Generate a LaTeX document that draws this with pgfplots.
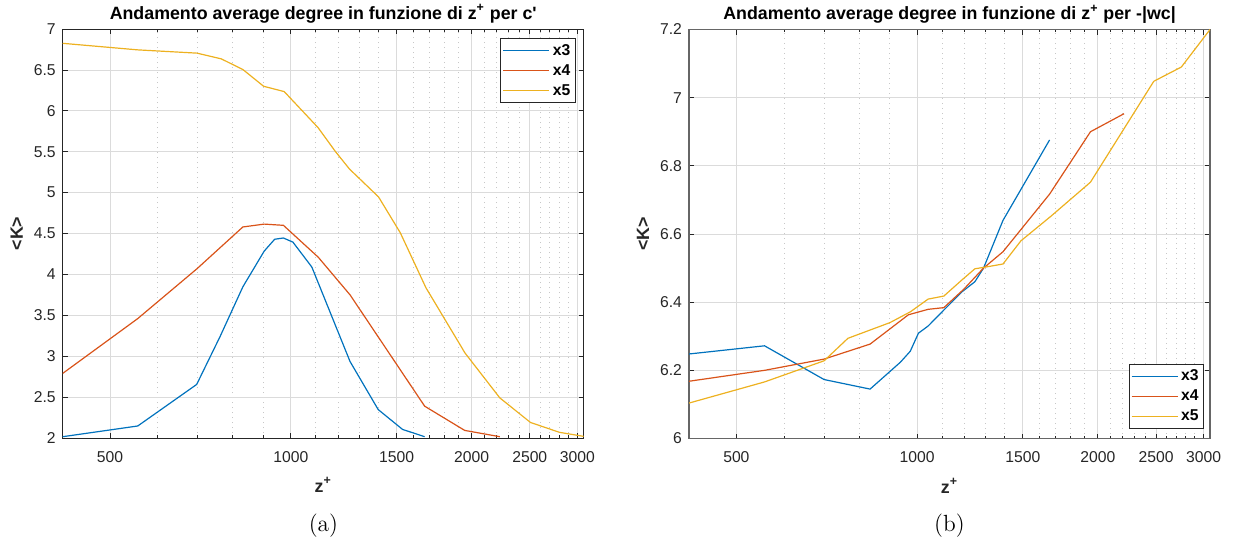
\documentclass[border=0pt]{standalone}
\usepackage{fontspec}
\usepackage{pgfplots}
\pgfplotsset{compat=1.18}
\newfontfamily\hv{Liberation Sans}
\definecolor{mblue}{rgb}{0,0.447,0.741}
\definecolor{mred}{rgb}{0.850,0.325,0.098}
\definecolor{myel}{rgb}{0.929,0.694,0.125}

\pgfplotsset{
  legend image code/.code={\draw[#1] (0pt,0pt) -- (23pt,0pt);},
  every axis plot/.append style={line width=0.6pt},
}

\begin{document}
\begin{tikzpicture}
\path[use as bounding box] (0pt,0pt) rectangle (617.5pt,-273.5pt);

% ---------- (a) ----------
\begin{axis}[name=L, at={(31.35pt,-219pt)}, anchor=south west,
    scale only axis, width=260.5pt, height=204.5pt,
    xmode=log, log basis x=10, xmin=417, xmax=3075,
    xtick={500,1000,1500,2000,2500,3000},
    xticklabels={500,1000,1500,2000,2500,3000},
    minor xtick={600,700,800,900,1100,1200,1300,1400,1600,1700,1800,1900,2100,2200,2300,2400,2600,2700,2800,2900},
    xmajorgrids=true, xminorgrids=true, ymajorgrids=true,
    major grid style={line width=0.4pt, black!14},
    minor grid style={line width=0.4pt, black!22, dash pattern=on 0.5pt off 2pt},
    tick align=inside, tick pos=both,
    major tick length=2.5pt, minor tick length=1.4pt,
    every tick/.style={black!85, line width=0.4pt},
    tick label style={font=\hv\fontsize{7.85}{9}\selectfont, text=black!85},
    yticklabel style={/pgf/number format/assume math mode=true, /pgf/number format/fixed, /pgf/number format/precision=1},
    xticklabel style={yshift=-3pt},
    title style={font=\hv\bfseries\fontsize{8.9}{10}\selectfont, at={(axis description cs:0.5,1.0367)}, anchor=center, yshift=-6pt},
    xlabel style={font=\hv\bfseries\fontsize{8.9}{10}\selectfont, text=black!85, at={(axis description cs:0.5,-0.115)}, anchor=center},
    ylabel style={font=\hv\bfseries\fontsize{8.9}{10}\selectfont, text=black!85, at={(axis description cs:-0.0883,0.5)}, anchor=center},
    legend style={font=\hv\bfseries\fontsize{7.85}{9}\selectfont, draw=black!85, line width=0.4pt, inner sep=1pt, row sep=0pt,
      nodes={inner sep=1.5pt, text height=5.8pt, text depth=1.2pt},
      at={(1,1)}, anchor=north east, xshift=-4pt, yshift=-4.5pt},
    legend cell align=left,
    xlabel={z\textsuperscript{+}},
    ylabel={<K>},
  axis line style={black!85, line width=0.5pt},
  ymin=2, ymax=7, ytick={2,2.5,3,3.5,4,4.5,5,5.5,6,6.5,7},
  title={Andamento average degree in funzione di z\textsuperscript{+} per c'},
]
\addplot[mblue] coordinates {
(417,2.016) (556,2.147) (697,2.655) (763,3.245) (832,3.848) (903,4.285) (940,4.43)
(972,4.445) (1008,4.395) (1084,4.09) (1255,2.935) (1398,2.348) (1535,2.105) (1671,2.016)
};
\addlegendentry{x3}
\addplot[mred] coordinates {
(417,2.79) (556,3.46) (698,4.07) (832,4.58) (903,4.615) (972,4.60) (1111,4.21)
(1255,3.75) (1671,2.389) (1948,2.093) (2229,2.016)
};
\addlegendentry{x4}
\addplot[myel] coordinates {
(417,6.825) (556,6.745) (698,6.705) (766,6.635) (832,6.505) (901,6.30) (975,6.235)
(1110,5.795) (1186,5.504) (1252,5.289) (1400,4.947) (1522,4.508) (1679,3.837)
(1950,3.04) (2229,2.49) (2507,2.19) (2800,2.07) (3075,2.02)
};
\addlegendentry{x5}
\end{axis}

% ---------- (b) ----------
\begin{axis}[name=R, at={(344.5pt,-219.25pt)}, anchor=south west,
    scale only axis, width=260.5pt, height=204.5pt,
    xmode=log, log basis x=10, xmin=417, xmax=3075,
    xtick={500,1000,1500,2000,2500,3000},
    xticklabels={500,1000,1500,2000,2500,3000},
    minor xtick={600,700,800,900,1100,1200,1300,1400,1600,1700,1800,1900,2100,2200,2300,2400,2600,2700,2800,2900},
    xmajorgrids=true, xminorgrids=true, ymajorgrids=true,
    major grid style={line width=0.4pt, black!14},
    minor grid style={line width=0.4pt, black!22, dash pattern=on 0.5pt off 2pt},
    tick align=inside, tick pos=both,
    major tick length=2.5pt, minor tick length=1.4pt,
    every tick/.style={black!85, line width=0.4pt},
    tick label style={font=\hv\fontsize{7.85}{9}\selectfont, text=black!85},
    yticklabel style={/pgf/number format/assume math mode=true, /pgf/number format/fixed, /pgf/number format/precision=1},
    xticklabel style={yshift=-3pt},
    title style={font=\hv\bfseries\fontsize{8.9}{10}\selectfont, at={(axis description cs:0.5,1.0367)}, anchor=center, yshift=-6pt},
    xlabel style={font=\hv\bfseries\fontsize{8.9}{10}\selectfont, text=black!85, at={(axis description cs:0.5,-0.115)}, anchor=center},
    ylabel style={font=\hv\bfseries\fontsize{8.9}{10}\selectfont, text=black!85, at={(axis description cs:-0.0883,0.5)}, anchor=center},
    legend style={font=\hv\bfseries\fontsize{7.85}{9}\selectfont, draw=black!85, line width=0.4pt, inner sep=1pt, row sep=0pt,
      nodes={inner sep=1.5pt, text height=5.8pt, text depth=1.2pt},
      at={(1,0)}, anchor=south east, xshift=-3pt, yshift=5pt},
    legend cell align=left,
    xlabel={z\textsuperscript{+}},
    ylabel={<K>},
  axis line style={black!60, line width=0.7pt},
  ymin=6, ymax=7.2, ytick={6,6.2,6.4,6.6,6.8,7,7.2},
  title={Andamento average degree in funzione di z\textsuperscript{+} per -|wc|},
]
\addplot[mblue] coordinates {
(417,6.248) (557,6.272) (700,6.173) (835,6.145) (938,6.224) (974,6.256) (1005,6.309)
(1043,6.33) (1108,6.377) (1187,6.43) (1248,6.46) (1290,6.50) (1390,6.64) (1662,6.876)
};
\addlegendentry{x3}
\addplot[mred] coordinates {
(417,6.168) (557,6.20) (700,6.233) (835,6.277) (967,6.363) (1043,6.379) (1108,6.384)
(1196,6.438) (1290,6.50) (1390,6.548) (1662,6.717) (1944,6.90) (2211,6.953)
};
\addlegendentry{x4}
\addplot[myel] coordinates {
(417,6.104) (557,6.166) (700,6.228) (767,6.294) (901,6.34) (975,6.372) (1043,6.409)
(1108,6.418) (1187,6.465) (1248,6.498) (1300,6.503) (1390,6.512) (1489,6.58) (1670,6.652)
(1944,6.752) (2478,7.048) (2755,7.09) (3075,7.2)
};
\addlegendentry{x5}
\end{axis}

\node[font=\fontsize{11.7}{14}\selectfont] at (161.7pt,-263pt) {(a)};
\node[font=\fontsize{11.7}{14}\selectfont] at (474.75pt,-263pt) {(b)};
\end{tikzpicture}
\end{document}
